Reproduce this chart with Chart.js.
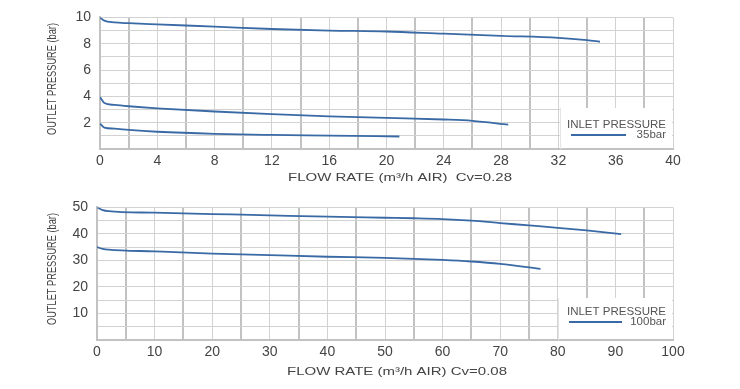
<!DOCTYPE html>
<html>
<head>
<meta charset="utf-8">
<script src="https://cdn.jsdelivr.net/npm/chart.js@4"></script>
<style>
  html, body { margin: 0; padding: 0; background: #fff; }
  .box { position: absolute; left: 0; width: 740px; }
  #top { top: 0; height: 190px; }
  #bottom { top: 190px; height: 199px; }
</style>
</head>
<body>
<div class="box" id="top"><canvas id="lowChart" width="740" height="190"></canvas></div>
<div class="box" id="bottom"><canvas id="highChart" width="740" height="199"></canvas></div>
<script>
// top chart, Cv=0.28
const lowFlowA = [0, 0.3, 1, 2, 4, 8, 12, 16, 20, 24, 28, 32, 34, 34.9];
const lowPresA = [10, 9.75, 9.62, 9.56, 9.47, 9.3, 9.12, 9.0, 8.93, 8.76, 8.6, 8.45, 8.27, 8.15];
const lowFlowB = [0, 0.3, 1, 2, 4, 8, 12, 16, 20, 24, 26, 28.5];
const lowPresB = [3.94, 3.5, 3.35, 3.25, 3.09, 2.85, 2.65, 2.48, 2.36, 2.24, 2.14, 1.85];
const lowFlowC = [0, 0.3, 1, 2, 4, 8, 12, 16, 20.9];
const lowPresC = [1.92, 1.63, 1.55, 1.45, 1.31, 1.15, 1.07, 1.02, 0.95];

// bottom chart, Cv=0.08
const highFlowA = [0, 1, 2, 10, 20, 30, 40, 50, 55, 60, 65, 70, 75, 80, 85, 91];
const highPresA = [50.1, 49.0, 48.6, 48.0, 47.5, 47.0, 46.5, 46.1, 45.9, 45.6, 45.0, 44.1, 43.2, 42.3, 41.3, 39.9];
const highFlowB = [0, 1, 2, 10, 20, 30, 40, 50, 60, 65, 70, 77];
const highPresB = [35.0, 34.4, 34.1, 33.4, 32.6, 32.0, 31.4, 31.0, 30.2, 29.6, 28.7, 26.8];

const lineBlue = '#3a6aa5';
const fontFamily = '"Liberation Sans", Arial, sans-serif';

function toPoints(xs, ys) {
    return xs.map((x, i) => ({ x: x, y: ys[i] }));
}

function curve(xs, ys) {
    return {
        data: toPoints(xs, ys),
        borderColor: lineBlue,
        borderWidth: 1.8,
        pointRadius: 0,
        fill: false,
        cubicInterpolationMode: 'monotone'
    };
}

// white legend box drawn inside the plot area
const inletLegend = {
    id: 'inletLegend',
    afterDatasetsDraw(chart, args, opts) {
        const ctx = chart.ctx;
        const a = chart.chartArea;
        const x0 = a.right - opts.w, y0 = a.bottom - opts.h;
        ctx.save();
        ctx.fillStyle = '#fff';
        ctx.fillRect(x0, y0, opts.w - 1, opts.h - 1);
        ctx.strokeStyle = '#e4e4e4';
        ctx.lineWidth = 1;
        ctx.beginPath();
        ctx.moveTo(x0 + 0.5, y0);
        ctx.lineTo(x0 + 0.5, a.bottom);
        ctx.stroke();
        ctx.fillStyle = '#555';
        ctx.font = '11.5px ' + fontFamily;
        ctx.textBaseline = 'middle';
        ctx.textAlign = 'right';
        ctx.fillText('INLET PRESSURE', a.right - 7, y0 + opts.textY);
        ctx.fillText(opts.label, a.right - 7, y0 + opts.textY + 10);
        ctx.strokeStyle = lineBlue;
        ctx.lineWidth = 1.8;
        ctx.beginPath();
        ctx.moveTo(x0 + 11, y0 + opts.textY + 10);
        ctx.lineTo(x0 + opts.lineEnd, y0 + opts.textY + 10);
        ctx.stroke();
        ctx.restore();
    }
};

// axis titles, stretched to the width the scanned chart has
function stretchedText(ctx, text, cx, cy, size, len, angle) {
    ctx.save();
    ctx.font = size + 'px ' + fontFamily;
    const w = ctx.measureText(text).width;
    ctx.translate(cx, cy);
    ctx.rotate(angle);
    ctx.scale(len / w, 1);
    ctx.textAlign = 'center';
    ctx.textBaseline = 'middle';
    ctx.fillStyle = '#444';
    ctx.fillText(text, 0, 0);
    ctx.restore();
}

const axisTitles = {
    id: 'axisTitles',
    afterDraw(chart, args, opts) {
        const ctx = chart.ctx;
        stretchedText(ctx, opts.xText, opts.xCx, opts.xCy, 10.5, opts.xLen, 0);
        stretchedText(ctx, 'OUTLET PRESSURE (bar)', 52.5, opts.yCy, 13, 112, -Math.PI / 2);
    }
};

const tickFont = { family: fontFamily, size: 14 };

function makeChart(id, cfg) {
    const ctx = document.getElementById(id).getContext('2d');
    return new Chart(ctx, {
        type: 'line',
        data: { datasets: cfg.datasets },
        plugins: [inletLegend, axisTitles],
        options: {
            responsive: false,
            animation: false,
            layout: { padding: { left: 0, right: cfg.padRight, top: cfg.padTop, bottom: 0 } },
            plugins: {
                legend: { display: false },
                tooltip: { enabled: false },
                inletLegend: { label: cfg.legendLabel, w: cfg.legendW, h: cfg.legendH, lineEnd: cfg.lineEnd, textY: cfg.legendTextY },
                axisTitles: { xText: cfg.xTitle, xCx: cfg.xTitleX, xCy: cfg.xTitleY, xLen: cfg.xTitleLen, yCy: cfg.yTitleY }
            },
            scales: {
                x: {
                    type: 'linear', min: 0, max: cfg.xMax,
                    ticks: {
                        stepSize: cfg.xStep, autoSkip: false, maxRotation: 0,
                        color: '#444', font: tickFont, padding: 4,
                        callback: v => (v % (cfg.xStep * 2) === 0 ? String(v) : '')
                    },
                    grid: {
                        drawTicks: false,
                        color: c => ((c.tick.value / cfg.xStep) % 2 === 1 ? '#c2c2c2' : '#d2d2d2'),
                        lineWidth: c => ((c.tick.value / cfg.xStep) % 2 === 1 ? 2 : 1)
                    },
                    border: { color: '#c2c2c2', width: 2 },
                    afterFit: s => { s.height = cfg.xAxisH; }
                },
                y: {
                    type: 'linear', min: 0, max: cfg.yMax,
                    ticks: {
                        stepSize: cfg.yStep, autoSkip: false,
                        color: '#444', font: tickFont, padding: 9,
                        callback: v => (v !== 0 && v % cfg.yLabelEvery === 0 ? String(v) : '')
                    },
                    grid: { drawTicks: false, color: '#d2d2d2', lineWidth: 1 },
                    border: { color: '#c2c2c2', width: 2 },
                    afterFit: s => { s.width = cfg.yAxisW; }
                }
            }
        }
    });
}

makeChart('lowChart', {
    datasets: [curve(lowFlowA, lowPresA), curve(lowFlowB, lowPresB), curve(lowFlowC, lowPresC)],
    xMax: 40, xStep: 2, yMax: 10, yStep: 1, yLabelEvery: 2,
    xTitle: 'FLOW RATE (m\u00b3/h AIR)  Cv=0.28', xTitleX: 400, xTitleY: 178.5, xTitleLen: 224, yTitleY: 79,
    legendLabel: '35bar', legendW: 113, legendH: 41, lineEnd: 66, legendTextY: 17,
    padRight: 67, padTop: 12, xAxisH: 41, yAxisW: 100
});

makeChart('highChart', {
    datasets: [curve(highFlowA, highPresA), curve(highFlowB, highPresB)],
    xMax: 100, xStep: 5, yMax: 50, yStep: 5, yLabelEvery: 10,
    xTitle: 'FLOW RATE (m\u00b3/h AIR) Cv=0.08', xTitleX: 397, xTitleY: 182, xTitleLen: 220, yTitleY: 79,
    legendLabel: '100bar', legendW: 115, legendH: 42, lineEnd: 64, legendTextY: 14,
    padRight: 67, padTop: 12, xAxisH: 49, yAxisW: 97
});
</script>
</body>
</html>
